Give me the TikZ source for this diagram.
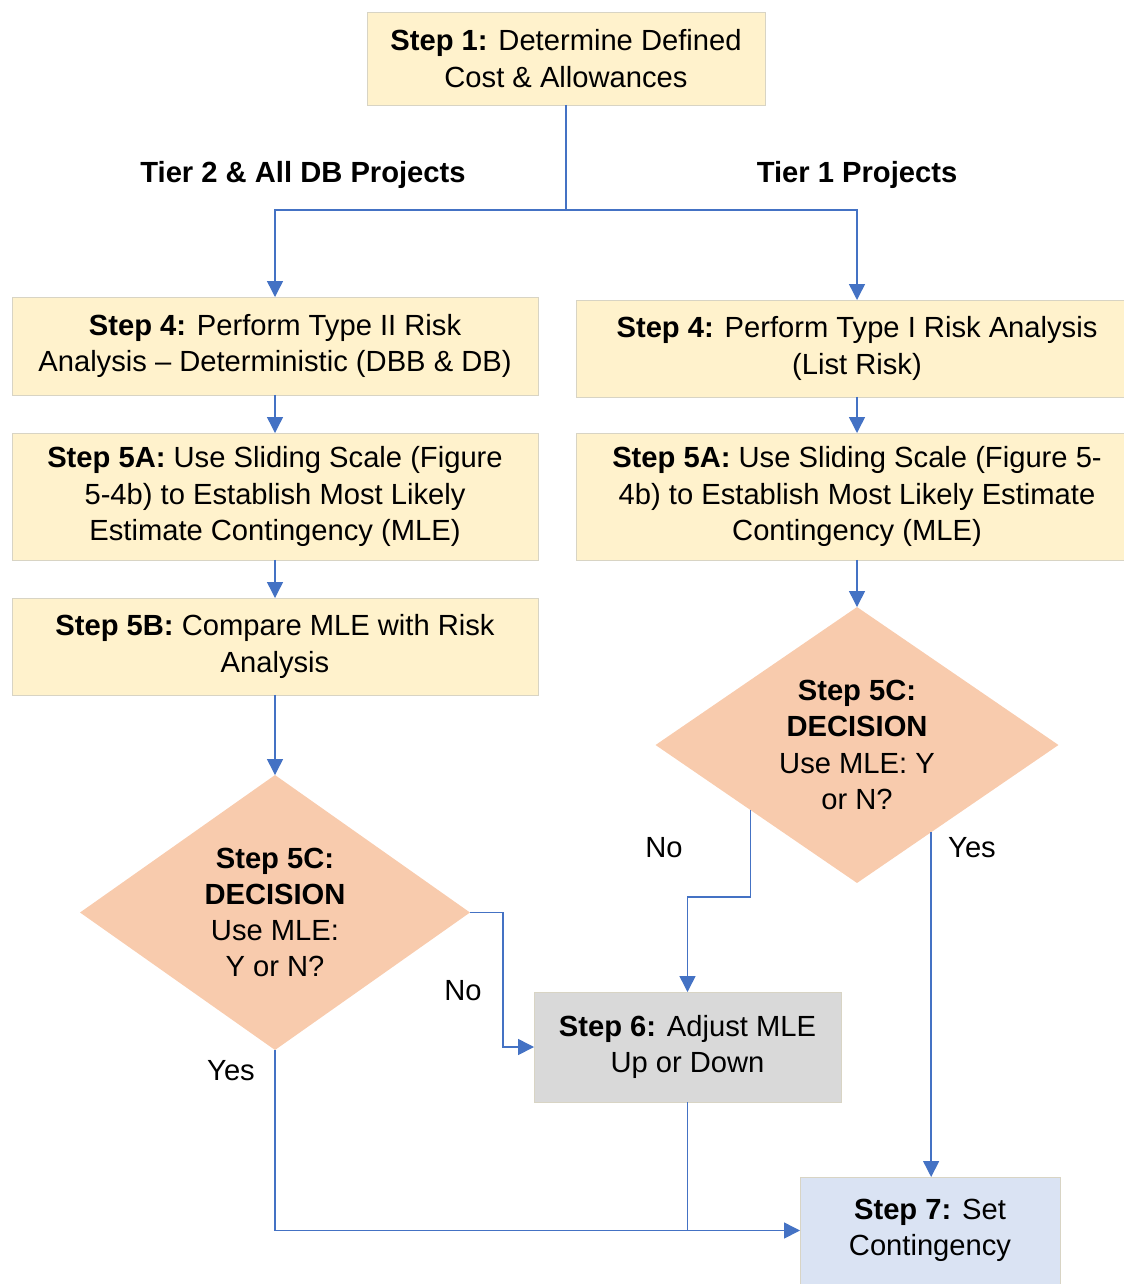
\documentclass[tikz,border=0pt]{standalone}
\usepackage{fontspec}
\setmainfont{Liberation Sans}
\usetikzlibrary{arrows.meta,shapes.geometric,calc}

\definecolor{boxyellow}{HTML}{FFF2CC}
\definecolor{boxedge}{HTML}{D8D4C4}
\definecolor{decfill}{HTML}{F8CBAD}
\definecolor{adjgray}{HTML}{D9D9D9}
\definecolor{setblue}{HTML}{DAE3F3}
\definecolor{flowblue}{HTML}{4472C4}

\tikzset{
  txt/.style={font=\fontsize{16.6}{20.6}\selectfont, align=center, text=black},
  stepbox/.style={txt, draw=boxedge, line width=0.5pt, fill=boxyellow,
    inner sep=0pt, outer sep=0pt},
  decision/.style={txt, diamond, fill=decfill, draw=none, inner sep=0pt,
    outer sep=0pt, aspect=1.42},
  flow/.style={draw=flowblue, line width=0.8pt},
  arrowed/.style={flow, -{Triangle[length=9pt,width=9pt]}},
  lbl/.style={font=\fontsize{16.6}{20.6}\selectfont, text=black, inner sep=0pt},
  tier/.style={font=\fontsize{16.6}{20.6}\selectfont\bfseries, text=black, inner sep=0pt}
}

\begin{document}
\begin{tikzpicture}[x=0.02cm, y=-0.02cm]
  \useasboundingbox (0,0) rectangle (1123,1284);

  % process boxes (the right column runs past the page edge)
  \node[stepbox, minimum width=7.96cm, minimum height=1.86cm] (s1) at (566,58.5)
    {\textbf{Step 1:} Determine Defined\\Cost \& Allowances};
  \node[stepbox, minimum width=10.52cm, minimum height=1.96cm] (s4l) at (275,346)
    {\textbf{Step 4:} Perform Type II Risk\\Analysis -- Deterministic (DBB \& DB)};
  \node[stepbox, minimum width=11.24cm, minimum height=1.94cm] (s4r) at (857,348.5)
    {\textbf{Step 4:} Perform Type I Risk Analysis\\(List Risk)};
  \node[stepbox, minimum width=10.52cm, minimum height=2.54cm] (s5l) at (275,496.5)
    {\textbf{Step 5A:} Use Sliding Scale (Figure\\5-4b) to Establish Most Likely\\Estimate Contingency (MLE)};
  \node[stepbox, minimum width=11.24cm, minimum height=2.54cm] (s5r) at (857,496.5)
    {\textbf{Step 5A:} Use Sliding Scale (Figure 5-\\4b) to Establish Most Likely Estimate\\Contingency (MLE)};
  \node[stepbox, minimum width=10.52cm, minimum height=1.94cm] (s5b) at (275,646.5)
    {\textbf{Step 5B:} Compare MLE with Risk\\Analysis};

  % decisions
  \node[decision, minimum width=7.8cm, minimum height=5.5cm] (d1) at (275,912.5)
    {\textbf{Step 5C:}\\\textbf{DECISION}\\Use MLE:\\Y or N?};
  \node[decision, minimum width=8.06cm, minimum height=5.52cm] (d2) at (857,745)
    {\textbf{Step 5C:}\\\textbf{DECISION}\\Use MLE: Y\\or N?};

  % outcome boxes
  \node[stepbox, fill=adjgray, minimum width=6.14cm, minimum height=2.2cm] (s6) at (687.5,1047)
    {\textbf{Step 6:} Adjust MLE\\Up or Down};
  \node[stepbox, fill=setblue, minimum width=5.2cm, minimum height=2.14cm] (s7) at (930,1230.5)
    {\textbf{Step 7:} Set\\Contingency};

  % branch headings
  \node[tier] (t2) at (303,175) {Tier 2 \& All DB Projects};
  \node[tier] (t1) at (857,175) {Tier 1 Projects};

  % split below step 1
  \coordinate (split) at ($(s1.south)+(0,105)$);
  \draw[flow] (s1.south) -- (split);
  \draw[arrowed] (split) -| (s4l.north);
  \draw[arrowed] (split) -| (s4r.north);

  % left column
  \draw[arrowed] (s4l.south) -- (s5l.north);
  \draw[arrowed] (s5l.south) -- (s5b.north);
  \draw[arrowed] (s5b.south) -- (d1.north);

  % right column
  \draw[arrowed] (s4r.south) -- (s5r.north);
  \draw[arrowed] (s5r.south) -- (d2.north);

  % left decision outcomes
  \draw[arrowed] (d1.east) -- ++(33,0) |- (s6.west);
  \draw[arrowed] (d1.south) |- (s7.west);
  \draw[flow] (s6.south) -- (s6.south |- s7.west);
  \node[lbl] (no1) at (463,991) {No};
  \node[lbl] (yes1) at (231,1071) {Yes};

  % right decision outcomes
  \coordinate (d2no) at ($(d2.west)!0.47!(d2.south)$);
  \coordinate (d2yes) at ($(d2.south)!0.368!(d2.east)$);
  \coordinate (jog) at ($(d2no)+(0,87)$);
  \draw[arrowed] (d2no) -- (jog) -| (s6.north);
  \draw[arrowed] (d2yes) -- (d2yes |- s7.north);
  \node[lbl] (no2) at (664,848) {No};
  \node[lbl] (yes2) at (972,848) {Yes};
\end{tikzpicture}
\end{document}
